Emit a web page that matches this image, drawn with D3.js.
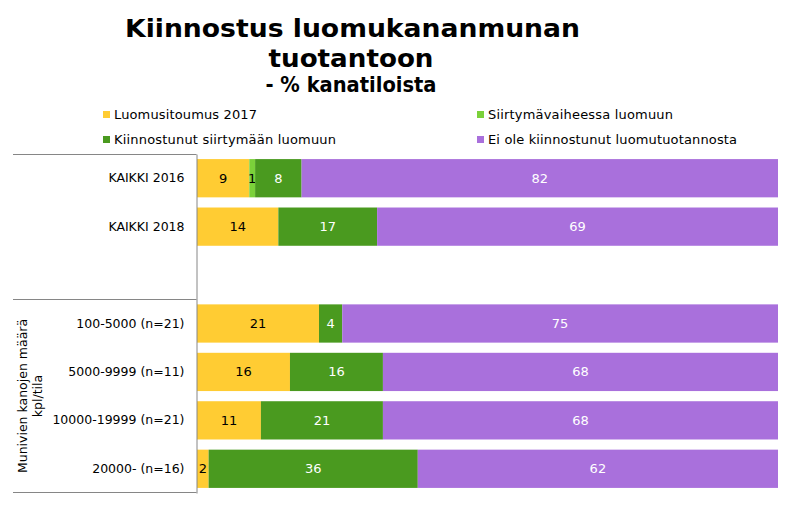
<!DOCTYPE html>
<html><head><meta charset="utf-8">
<script src="https://cdn.jsdelivr.net/npm/d3@7"></script>
<style>body{margin:0;background:#fff}svg{display:block}</style>
</head><body>
<script>
const categories = ["KAIKKI 2016","KAIKKI 2018","","100-5000 (n=21)","5000-9999 (n=11)","10000-19999 (n=21)","20000- (n=16)"];
const seriesNames = ["Luomusitoumus 2017","Siirtymävaiheessa luomuun","Kiinnostunut siirtymään luomuun","Ei ole kiinnostunut luomutuotannosta"];
const luomusitoumus = [9,14,null,21,16,11,2];
const siirtymavaiheessa = [1,0,null,0,0,0,0];
const kiinnostunut = [8,17,null,4,16,21,36];
const eiKiinnostunut = [82,69,null,75,68,68,62];
const colors = ["#FFCC33","#7BD13A","#4A9A1F","#A970DC"];
const labelColors = ["#000","#000","#fff","#fff"];
const titleLines = ["Kiinnostus luomukananmunan","tuotantoon","- % kanatiloista"];
const groupLabel = ["Munivien kanojen määrä","kpl/tila"];

const W=796,H=508;
const svg=d3.select("body").append("svg").attr("width",W).attr("height",H);
const font="DejaVu Sans, Verdana, sans-serif";

// title
const tf="DejaVu Sans, Verdana, sans-serif";
const tSpec=[[352.5,36.5,25,455],[351,67,25,165],[351,92,21,171]];
titleLines.forEach((t,i)=>{
  svg.append("text").attr("x",tSpec[i][0]).attr("y",tSpec[i][1]).attr("text-anchor","middle")
    .attr("font-family",tf).attr("font-weight","bold").attr("font-size",tSpec[i][2])
    .attr("textLength",tSpec[i][3]).attr("lengthAdjust","spacingAndGlyphs").attr("fill","#000").text(t);
});

// legend
const legPos=[[103,114],[477,114],[103,139],[477,139]];
const legW=[143,185,222,249];
seriesNames.forEach((n,i)=>{
  const g=svg.append("g").attr("transform",`translate(${legPos[i][0]},${legPos[i][1]})`);
  g.append("rect").attr("x",0).attr("y",-3).attr("width",7).attr("height",7).attr("fill",colors[i]);
  g.append("text").attr("x",11).attr("y",4.5).attr("font-family",font).attr("font-size",13)
    .attr("textLength",legW[i]).attr("lengthAdjust","spacing").attr("fill","#000").text(n);
});

// scales
const x=d3.scaleLinear().domain([0,100]).range([197,778]);
const y=d3.scaleBand().domain(d3.range(categories.length)).range([154,493]).paddingInner(0.21).paddingOuter(0.105);

const data=[luomusitoumus,siirtymavaiheessa,kiinnostunut,eiKiinnostunut];
const rows=categories.map((c,i)=>{const o={i};data.forEach((s,k)=>o[k]=s[i]||0);return o;});
const stack=d3.stack().keys([0,1,2,3])(rows);

stack.forEach((layer,k)=>{
  const g=svg.append("g");
  layer.forEach((d,i)=>{
    if(data[k][i]==null||data[k][i]===0) return;
    g.append("rect").attr("x",x(d[0])).attr("y",y(i)).attr("width",x(d[1])-x(d[0])).attr("height",y.bandwidth()).attr("fill",colors[k]);
    g.append("text").attr("x",(x(d[0])+x(d[1]))/2).attr("y",y(i)+y.bandwidth()/2+4.5).attr("text-anchor","middle")
      .attr("font-family",font).attr("font-size",13).attr("fill",labelColors[k]).text(data[k][i]);
  });
});

// axis
const ax=svg.append("g").attr("transform","translate(196.5,0)").call(d3.axisLeft(y).tickSize(0).tickPadding(12).tickFormat(i=>categories[i]));
ax.select(".domain").attr("stroke","#868686");
ax.selectAll("text").attr("font-family",font).attr("font-size",12.5).attr("fill","#000");
const lineC="#868686";
[154.5,299.5,492.5].forEach(yy=>svg.append("line").attr("x1",13).attr("x2",196.5).attr("y1",yy).attr("y2",yy).attr("stroke",lineC));
const gl=svg.append("text").attr("transform","translate(0,396) rotate(-90)").attr("text-anchor","middle").attr("font-family",font).attr("font-size",12.5);
gl.append("tspan").attr("x",0).attr("y",27).text(groupLabel[0]);
gl.append("tspan").attr("x",0).attr("y",42).text(groupLabel[1]);
</script>
</body></html>
